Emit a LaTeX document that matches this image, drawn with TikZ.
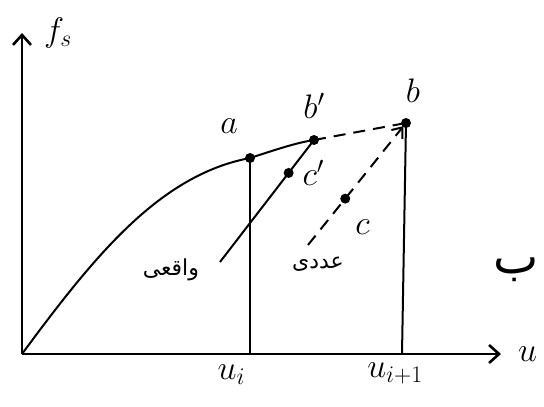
\RequirePackage{fix-cm}
\documentclass[tikz,border=0pt]{standalone}
\usepackage{fontspec}
\newfontfamily\arabicfont[Script=Arabic]{DejaVu Sans}
\TeXXeTstate=1
\usetikzlibrary{positioning,arrows.meta,calc}

\begin{document}
\begin{tikzpicture}[
  x=1pt, y=1pt,
  line width=2pt,
  lbl/.style={font=\fontsize{34}{34}\selectfont, inner sep=0pt},
  fa/.style={font=\arabicfont\fontsize{22}{24}\selectfont, inner sep=0pt},
  dot/.style={circle, fill, inner sep=0pt, minimum size=10pt},
  axis/.style={line width=2.6pt, -{Straight Barb[length=10pt,width=18pt]}},
  dsh/.style={dash pattern=on 12pt off 8pt}
]
  \useasboundingbox (0,0) rectangle (544,407);

  % --- points
  \coordinate (o) at (22,53);
  \coordinate (ytop) at (22,374);
  \coordinate (xend) at (501,53);
  \coordinate (a) at (250,249);
  \coordinate (bp) at (314,267);
  \coordinate (b) at (406,284);
  \coordinate (lo) at (220,145);
  \coordinate (ln) at (308,162);
  \coordinate (cp) at ($(bp)!0.27!(lo)$);
  \coordinate (c) at ($(b)!0.62!(ln)$);
  \coordinate (ui) at (a |- o);
  \coordinate (uj) at (402,53);

  % --- axes
  \draw[axis] (o) -- (ytop);
  \draw[axis] (o) -- (xend);

  % --- curve and steps
  \draw (o) .. controls (95,152) and (160,232) .. (a)
            .. controls (275,257) and (295,264) .. (bp);
  \draw[dsh] (bp) -- (b);
  \draw (a) -- (ui);
  \draw (b) -- (uj);
  \draw (bp) -- (lo);
  \draw[dsh, -{Straight Barb[length=9pt,width=14pt]}, shorten >=4pt] (ln) -- (b);

  \foreach \p in {a,bp,b,cp,c}
    \node[dot] (d\p) at (\p) {};

  % --- labels
  \node[lbl, right=21pt of ytop] (fs) {$f_s$};
  \node[lbl, right=16pt of xend] (u) {$u$};
  \node[lbl, below left=10pt and 4pt of ui] (lui) {$u_i$};
  \node[lbl, below=8pt of uj, xshift=-7pt] (luj) {$u_{i+1}$};
  \node[lbl, above left=19pt and 7pt of da] (la) {$a$};
  \node[lbl, above=14pt of dbp] (lbp) {$b'$};
  \node[lbl, above=13pt of db, xshift=7pt] (lb) {$b$};
  \node[lbl, right=7pt of dcp] (lcp) {$c'$};
  \node[lbl, below right=16pt and 5pt of dc] (lc) {$c$};
  \node[fa, left=20pt of lo, yshift=-8pt] (real) {\beginR واقعی\endR};
  \node[fa, below=11pt of ln, xshift=10pt] (num) {\beginR عددی\endR};
  \node[fa, font=\arabicfont\fontsize{48}{50}\selectfont] (bey) at (516,137) {\beginR ب\endR};
\end{tikzpicture}
\end{document}
